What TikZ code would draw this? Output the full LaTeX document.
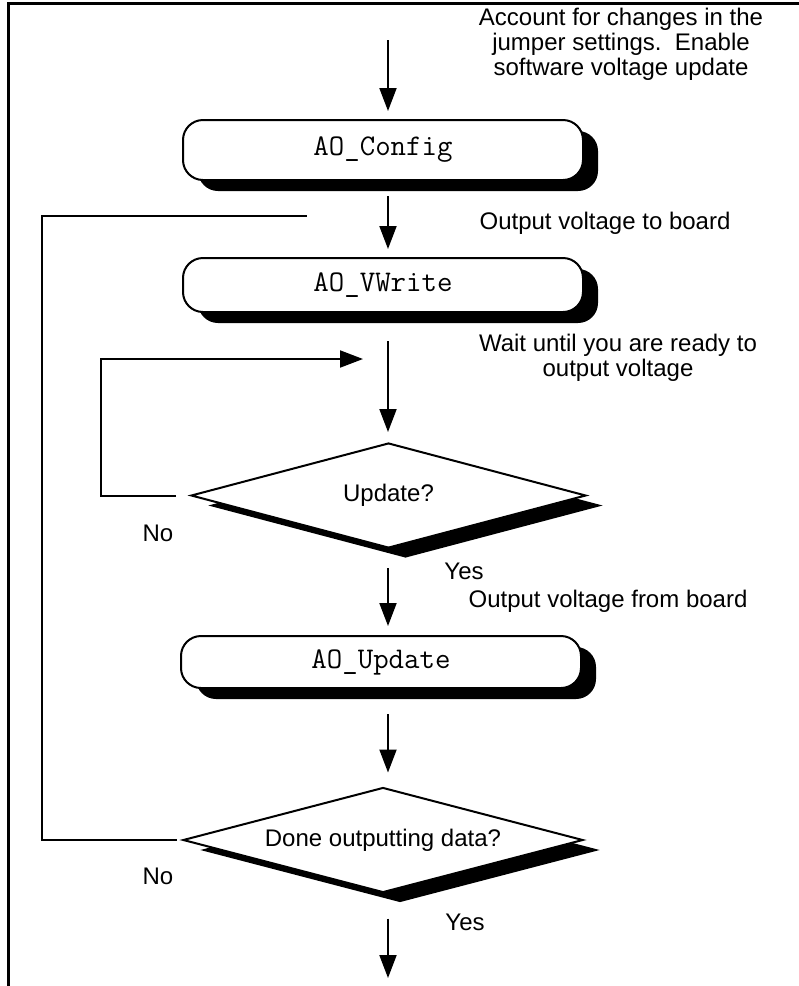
\documentclass[tikz,border=0pt]{standalone}
\usepackage{fontspec}
\setmainfont{Liberation Sans}
\usetikzlibrary{arrows.meta,shapes.geometric,shadows}

\begin{document}
\begin{tikzpicture}[x=1pt,y=-1pt,
  font=\fontsize{24}{25}\selectfont,
  proc/.style={draw, line width=2pt, rounded corners=20pt, fill=white,
    minimum width=400pt, inner sep=0pt,
    font=\fontsize{30}{30}\selectfont\ttfamily,
    drop shadow={shadow xshift=15pt, shadow yshift=-11pt, opacity=1, fill=black}},
  decide/.style={diamond, draw, line width=2pt, fill=white, aspect=3.8,
    inner sep=0pt, minimum width=#1, minimum height=105pt,
    drop shadow={shadow xshift=17pt, shadow yshift=-10pt, opacity=1, fill=black}},
  flow/.style={line width=2pt, -{Triangle[length=23pt,width=17pt]}},
  loopline/.style={line width=2pt},
  note/.style={align=center, inner sep=0pt},
]
\useasboundingbox (0,0) rectangle (799,986);

% page frame (top and left edges)
\draw[line width=2.7pt] (8.5,986) -- (8.5,3.5) -- (799,3.5);

% process boxes and decisions
\node[proc, minimum height=60pt] (cfg) at (383,150) {AO\_Config};
\node[proc, minimum height=54pt] (vw) at (383,285) {AO\_VWrite};
\node[decide=395pt] (upd) at (388.5,495.5) {Update?};
\node[proc, minimum height=52pt] (aoupd) at (381,662) {AO\_Update};
\node[decide=400pt] (done) at (383,840) {Done outputting data?};

% helper coordinates for the connectors
\coordinate (ax) at (388,0);
\coordinate (start) at (388,40);
\coordinate (finish) at (388,978);
\coordinate (loopin) at (363,359);
\coordinate (loopout) at (307,216);
\coordinate (innerx) at (101,0);
\coordinate (outerx) at (42,0);

% main flow
\draw[flow, shorten >=8pt] (start) -- (cfg.north -| ax);
\draw[flow, shorten <=15pt, shorten >=8pt] (cfg.south -| ax) -- (vw.north -| ax);
\draw[flow, shorten <=28pt, shorten >=10pt] (vw.south -| ax) -- (upd.north -| ax);
\draw[flow, shorten <=19pt, shorten >=9pt] (upd.south -| ax) -- (aoupd.north -| ax);
\draw[flow, shorten <=25pt, shorten >=14pt] (aoupd.south -| ax) -- (done.north -| ax);
\draw[flow, shorten <=25pt] (done.south -| ax) -- (finish);

% loops
\draw[flow, shorten <=14pt] (upd.west) -- (upd.west -| innerx) |- (loopin);
\draw[loopline, shorten <=5pt] (done.west) -- (done.west -| outerx) |- (loopout);

% annotations
\node[note] (t1) at (621,44) {Account for changes in the\\jumper settings.\ \ Enable\\software voltage update};
\node[note] (t2) at (605,223) {Output voltage to board};
\node[note] (t3) at (618,358) {Wait until you are ready to\\output voltage};
\node[note] (no1) at (158,533) {No};
\node[note] (yes1) at (464,571) {Yes};
\node[note] (t4) at (608,601) {Output voltage from board};
\node[note] (no2) at (158,876) {No};
\node[note] (yes2) at (465,922) {Yes};
\end{tikzpicture}
\end{document}
